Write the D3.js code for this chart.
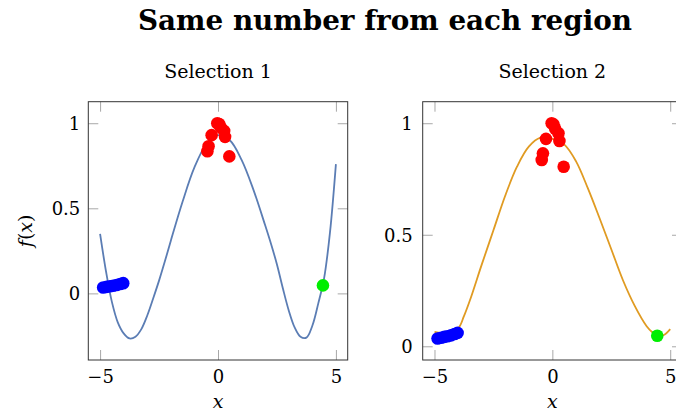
<!DOCTYPE html>
<html>
<head>
<meta charset="utf-8">
<script src="https://cdn.jsdelivr.net/npm/d3@7"></script>
<style>
body { margin: 0; background: #fff; }
svg text { font-family: "DejaVu Serif", serif; fill: #000; }
</style>
</head>
<body>
<div id="chart"></div>
<script>
// values
const xTicks = [-5, 0, 5];
const yTicks = [0, 0.5, 1];
const panelTitles = ["Selection 1", "Selection 2"];

// fitted curve, selection 1
const fit1X = [-5, -4.75, -4.5, -4.25, -4, -3.75, -3.5, -3.25, -3, -2.75, -2.5, -2.25, -2,
    -1.5, -1, -0.5, 0, 0.5, 1, 1.5, 2, 2.25, 2.5, 2.75, 3, 3.25, 3.5, 3.75, 4, 4.25, 4.5, 4.75, 5];
const fit1Y = [0.35, 0.13, -0.05, -0.17, -0.235, -0.265, -0.255, -0.21, -0.13, -0.03, 0.075, 0.19, 0.31,
    0.54, 0.74, 0.875, 0.93, 0.90, 0.785, 0.61, 0.40, 0.29, 0.17, 0.03, -0.10, -0.20, -0.255, -0.26, -0.19, -0.06, 0.09, 0.36, 0.76];

// fitted curve, selection 2
const fit2X = [-5, -4.5, -4, -3.75, -3.5, -3, -2.5, -2, -1.5, -1, -0.5, 0,
    0.5, 1, 1.5, 2, 2.5, 3, 3.5, 4, 4.25, 4.5, 4.75, 5];
const fit2Y = [0.065, 0.06, 0.08, 0.135, 0.205, 0.365, 0.52, 0.675, 0.805, 0.895, 0.935, 0.93,
    0.905, 0.83, 0.71, 0.575, 0.435, 0.295, 0.18, 0.09, 0.062, 0.046, 0.052, 0.077];

// sampled points (same in both panels)
const blueX = [-4.87, -4.72, -4.58, -4.45, -4.3, -4.15, -4.02];
const blueY = [0.035, 0.038, 0.042, 0.045, 0.049, 0.055, 0.06];
const redX = [-0.03, 0.05, 0.12, 0.26, 0.3, -0.27, -0.4, -0.45, 0.48];
const redY = [1.0, 0.995, 0.975, 0.955, 0.92, 0.93, 0.865, 0.835, 0.805];
const greenX = [4.45];
const greenY = [0.047];

const zip = (xs, ys) => xs.map((x, i) => ({x: x, y: ys[i]}));

/**
 * One axis box with a fitted curve and the sampled points
 */
function SelectionPanel(svg, opts){
    let self = this;
    self.svg = svg;
    self.opts = opts;
    self.init();
}

SelectionPanel.prototype.init = function(){
    let self = this;
    let o = self.opts;
    let g = self.svg.append("g");

    let fit = zip(o.fitX, o.fitY);
    let pts = [zip(blueX, blueY), zip(redX, redY), zip(greenX, greenY)];

    //pgfplots style limits: x padded by 0.5, y by 10% of the data range
    let allY = o.fitY.concat(blueY, redY, greenY);
    let [yMin, yMax] = d3.extent(allY);
    let pad = (yMax - yMin) * 0.1;

    let x = d3.scaleLinear().domain([-5.5, 5.5]).range([o.left, o.right]);
    let y = d3.scaleLinear().domain([yMin - pad, yMax + pad]).range([o.bottom, o.top]);
    let fmt = d3.format("~g");

    let tickLen = 10;
    let styleAxis = sel => {
        sel.select(".domain").remove();
        sel.selectAll(".tick line").attr("stroke", "#a8a8a8");
    };

    let bottomAxis = g.append("g").attr("transform", `translate(0,${o.bottom})`)
        .call(d3.axisBottom(x).tickValues(xTicks).tickSize(-tickLen).tickFormat(fmt));
    bottomAxis.call(styleAxis);
    bottomAxis.selectAll("text").attr("y", 23).attr("dy", null)
        .style("font-size", "18px");

    g.append("g").attr("transform", `translate(0,${o.top})`)
        .call(d3.axisTop(x).tickValues(xTicks).tickSize(-tickLen).tickFormat(""))
        .call(styleAxis);

    let leftAxis = g.append("g").attr("transform", `translate(${o.left},0)`)
        .call(d3.axisLeft(y).tickValues(yTicks).tickSize(-tickLen).tickPadding(o.labelPad).tickFormat(fmt));
    leftAxis.call(styleAxis);
    leftAxis.selectAll("text").attr("dy", "0.36em").style("font-size", "18px");

    g.append("g").attr("transform", `translate(${o.right},0)`)
        .call(d3.axisRight(y).tickValues(yTicks).tickSize(-tickLen).tickFormat(""))
        .call(styleAxis);

    //axis box
    g.append("rect")
        .attr("x", o.left).attr("y", o.top)
        .attr("width", o.right - o.left).attr("height", o.bottom - o.top)
        .attr("fill", "none").attr("stroke", "#333").attr("stroke-width", 1);

    //fitted curve
    let line = d3.line()
        .x(d => x(d.x)).y(d => y(d.y))
        .curve(d3.curveCatmullRom.alpha(0.5));
    g.append("path").datum(fit)
        .attr("d", line)
        .attr("fill", "none")
        .attr("stroke", o.color)
        .attr("stroke-width", 1.8);

    //sampled points
    let colors = ["#0000ff", "#ff0000", "#00ee00"];
    pts.forEach((set, i) => {
        g.append("g").selectAll("circle").data(set).enter().append("circle")
            .attr("cx", d => x(d.x)).attr("cy", d => y(d.y))
            .attr("r", 6.3)
            .attr("fill", colors[i]);
    });

    //panel title
    g.append("text")
        .attr("x", x(0)).attr("y", 78)
        .attr("text-anchor", "middle")
        .style("font-size", "19px")
        .text(o.title);

    //x label
    g.append("text")
        .attr("x", x(0)).attr("y", 408)
        .attr("text-anchor", "middle")
        .style("font-size", "19px").style("font-style", "italic")
        .text("x");

    if (o.yLabel) {
        let t = g.append("text")
            .attr("transform", `translate(31.5,${(o.top + o.bottom) / 2}) rotate(-90)`)
            .attr("text-anchor", "middle")
            .style("font-size", "19px");
        t.append("tspan").style("font-style", "italic").text("f");
        t.append("tspan").text("(");
        t.append("tspan").style("font-style", "italic").text("x");
        t.append("tspan").text(")");
    }
};

let svg = d3.select("#chart").append("svg")
    .attr("width", 676)
    .attr("height", 414);

svg.append("text")
    .attr("x", 385).attr("y", 30)
    .attr("text-anchor", "middle")
    .style("font-size", "27.8px").style("font-weight", "bold")
    .text("Same number from each region");

new SelectionPanel(svg, {
    title: panelTitles[0], fitX: fit1X, fitY: fit1Y, color: "#5b7db4",
    left: 88.3, right: 347.7, top: 101.7, bottom: 360, labelPad: 8, yLabel: true
});
new SelectionPanel(svg, {
    title: panelTitles[1], fitX: fit2X, fitY: fit2Y, color: "#e09b22",
    left: 422.7, right: 682, top: 101.7, bottom: 360, labelPad: 10, yLabel: false
});
</script>
</body>
</html>
